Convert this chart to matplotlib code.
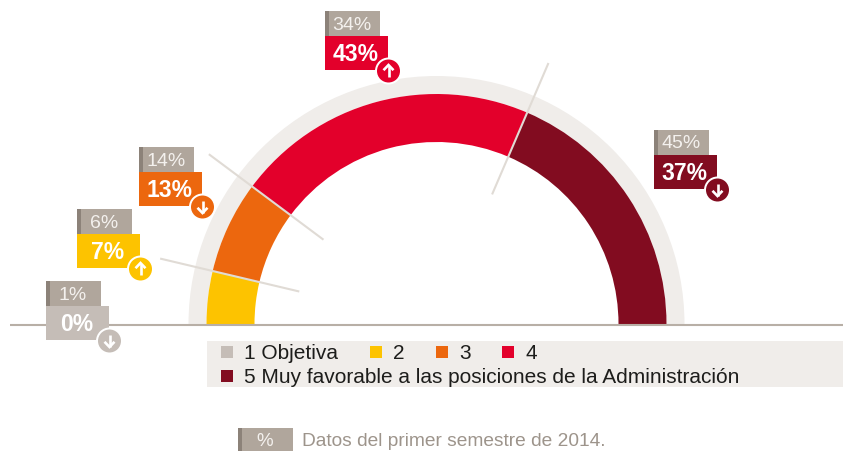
import matplotlib
matplotlib.use("Agg")
import matplotlib.pyplot as plt
from matplotlib.patches import Wedge, Rectangle, Circle
import numpy as np

plt.rcParams['font.family'] = ['Liberation Sans', 'DejaVu Sans']

# data
categories = ["1 Objetiva", "2", "3", "4", "5 Muy favorable a las posiciones de la Administración"]
current = [0, 7, 13, 43, 37]
previous = [1, 6, 14, 34, 45]
# the arc sizes, a bit finer than the rounded labels
arc_share = [0, 7.4, 13.0, 42.5, 37.1]
trend = ["down", "up", "down", "up", "down"]
footnote = "Datos del primer semestre de 2014."

# styles and layout, everything in reference pixels
colors = ["#c5bdb7", "#fdc300", "#ec670e", "#e3002b", "#820c20"]
label_corner = [(46, 281), (77, 209), (139, 147), (325, 11), (654, 130)]
legend_pos = [(221, 352), (370, 352), (436, 352), (502, 352), (221, 376)]
GREY = "#b0a69c"
GREY_DARK = "#8c8279"
RING = "#f0edea"
DIVIDER = "#e0dbd5"
W, H = 843, 451
CX, CY = 436.5, 324


def y(py):
    return H - py


def box(ax, x0, y0, x1, y1, color, z=3):
    ax.add_patch(Rectangle((x0, y(y1)), x1 - x0, y1 - y0, fc=color, ec="none", zorder=z))


def arrow_badge(ax, cx, cy, color, direction):
    ax.add_patch(Circle((cx, y(cy)), 13.5, fc="white", ec="none", zorder=5))
    ax.add_patch(Circle((cx, y(cy)), 11.5, fc=color, ec="none", zorder=6))
    s = 1 if direction == "up" else -1
    yc = y(cy)
    ax.plot([cx, cx], [yc - 6 * s, yc + 5.5 * s], color="white", lw=1.9, zorder=7,
            solid_capstyle="butt")
    ax.plot([cx - 5, cx, cx + 5], [yc + 0.8 * s, yc + 6 * s, yc + 0.8 * s], color="white",
            lw=1.9, zorder=7, solid_joinstyle="miter", solid_capstyle="butt")


fig = plt.figure(figsize=(W / 100, H / 100), dpi=100)
ax = fig.add_axes([0, 0, 1, 1])
ax.set_xlim(0, W)
ax.set_ylim(0, H)
ax.axis("off")

# half donut
ax.add_patch(Wedge((CX, y(CY)), 248, 0, 180, width=18, fc=RING, ec="none", zorder=1))
total = sum(arc_share)
start = 180.0
bounds = []
for val, col in zip(arc_share, colors):
    sweep = 180.0 * val / total
    if val > 0:
        ax.add_patch(Wedge((CX, y(CY)), 230, start - sweep, start, width=48, fc=col, ec="none", zorder=2))
    start -= sweep
    bounds.append(start)

# divider lines between segments
for ang in bounds[1:-1]:
    a = np.radians(ang)
    ax.plot([CX + 141 * np.cos(a), CX + 284 * np.cos(a)],
            [y(CY) + 141 * np.sin(a), y(CY) + 284 * np.sin(a)],
            color=DIVIDER, lw=1.5, zorder=3, solid_capstyle="butt")

# baseline
ax.plot([10, W], [y(324.5), y(324.5)], color="#b8afa6", lw=1.5, zorder=4, solid_capstyle="butt")

# value labels
for i, (x0, y0) in enumerate(label_corner):
    box(ax, x0, y0, x0 + 55, y0 + 25, GREY)
    box(ax, x0, y0, x0 + 4, y0 + 25, GREY_DARK, z=4)
    ax.text(x0 + 27, y(y0 + 14), "%d%%" % previous[i], color="#f4f1ee", fontsize=14,
            ha="center", va="center", zorder=5)
    box(ax, x0, y0 + 25, x0 + 63, y0 + 59, colors[i], z=4)
    ax.text(x0 + 30.5, y(y0 + 43.5), "%d%%" % current[i], color="white", fontsize=16.5,
            fontweight="bold", ha="center", va="center", zorder=5)
    arrow_badge(ax, x0 + 63.5, y0 + 60, colors[i], trend[i])

# legend
box(ax, 207, 341, W, 387, RING, z=1)
for (lx, ly), cat, col in zip(legend_pos, categories, colors):
    box(ax, lx, ly - 6, lx + 12, ly + 6, col, z=2)
    ax.text(lx + 23, y(ly + 1.5), cat, color="#1d1d1b", fontsize=15, ha="left", va="center", zorder=3)

# footnote
box(ax, 238, 428, 293, 451, GREY)
box(ax, 238, 428, 242, 451, GREY_DARK, z=4)
ax.text(265, y(441.5), "%", color="#f4f1ee", fontsize=13.5, ha="center", va="center", zorder=5)
ax.text(302, y(441.5), footnote, color="#9d948b", fontsize=13.75, ha="left", va="center")

fig.savefig("out.png", dpi=100)
